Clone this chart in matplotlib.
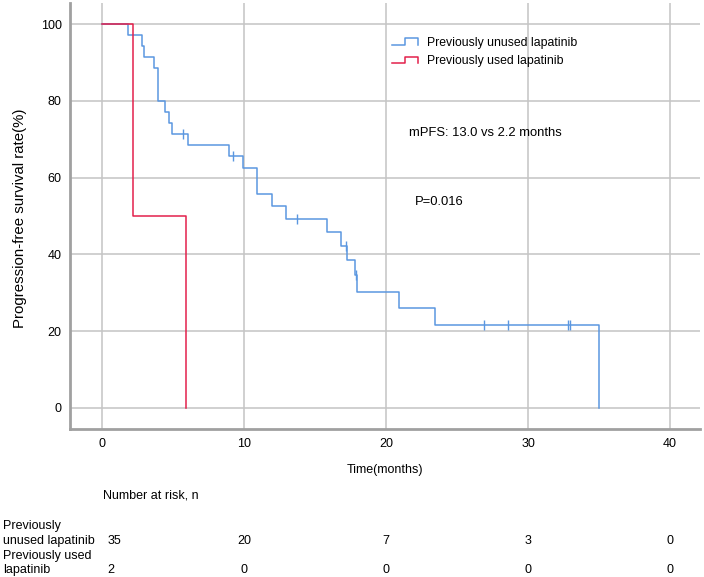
import numpy as np
import matplotlib
matplotlib.use('Agg')
import matplotlib.pyplot as plt
from matplotlib.lines import Line2D
from matplotlib.legend_handler import HandlerBase
import matplotlib.transforms as mtransforms

plt.rcParams['font.family'] = ['Liberation Sans', 'DejaVu Sans']
plt.rcParams['font.size'] = 9

# Kaplan-Meier steps
t_unused = [0, 1.85, 2.84, 2.95, 3.66, 3.97, 4.46, 4.74, 4.95, 6.03, 8.94, 9.95,
            10.94, 11.95, 12.94, 15.82, 16.85, 17.23, 17.84, 17.93, 20.94, 23.45, 35.0]
s_unused = [100, 97.1, 94.3, 91.4, 88.6, 80.0, 77.1, 74.3, 71.4, 68.5, 65.5, 62.4,
            55.7, 52.5, 49.2, 45.7, 42.2, 38.4, 34.5, 30.3, 26.0, 21.6, 0]
t_used = [0, 2.2, 5.9]
s_used = [100, 50, 0]

# censored points
c_unused_t = [5.73, 9.25, 13.7, 17.18, 17.9, 26.9, 28.6, 32.8, 32.95]
c_unused_s = [71.4, 65.5, 49.2, 42.2, 34.5, 21.6, 21.6, 21.6, 21.6]

risk_times = [0, 10, 20, 30, 40]
risk_unused = [35, 20, 7, 3, 0]
risk_used = [2, 0, 0, 0, 0]

blue = '#5b97e0'
red = '#e3204b'


class StepHandler(HandlerBase):
    def create_artists(self, legend, orig_handle, xdescent, ydescent,
                       width, height, fontsize, trans):
        x = np.array([0, 0.52, 0.52, 1.0, 1.0]) * width - xdescent
        y = np.array([0.1, 0.1, 0.9, 0.9, 0.15]) * height - ydescent
        ln = Line2D(x, y, color=orig_handle.get_color(), lw=1.1)
        ln.set_transform(trans)
        return [ln]


fig = plt.figure(figsize=(7.04, 5.77), dpi=100)
ax = fig.add_axes([70 / 704, 1 - 429.3 / 577, 630 / 704, 426.3 / 577])

l1, = ax.step(t_unused, s_unused, where='post', color=blue, lw=1.1)
l2, = ax.step(t_used, s_used, where='post', color=red, lw=1.1)
ax.plot(c_unused_t, c_unused_s, ls='none', marker='|', ms=7, mew=1.0, color=blue)

ax.set_xlim(-2.25, 42.1)
ax.set_ylim(-5.6, 105.5)
ax.set_xticks(risk_times)
ax.set_yticks([0, 20, 40, 60, 80, 100])
ax.grid(True, color='#c4c4c4', lw=1.1)
ax.set_axisbelow(True)
for s in ['top', 'right']:
    ax.spines[s].set_visible(False)
for s in ['left', 'bottom']:
    ax.spines[s].set_color('#a0a0a0')
    ax.spines[s].set_linewidth(2)
ax.tick_params(length=0, pad=6, labelsize=9)

leg = ax.legend([l1, l2], ['Previously unused lapatinib', 'Previously used lapatinib'],
                handler_map={Line2D: StepHandler()}, loc='upper left',
                bbox_to_anchor=(0.511, 0.92), frameon=False, borderpad=0,
                borderaxespad=0, handlelength=2.1, handletextpad=0.8,
                labelspacing=0.5, fontsize=8.8)

ax.text(21.6, 71.7, 'mPFS: 13.0 vs 2.2 months', fontsize=9.4, va='center')
ax.text(22.05, 53.7, 'P=0.016', fontsize=9.4, va='center')

fig.text(20 / 704, 1 - 218 / 577, 'Progression-free survival rate(%)', rotation=90,
         ha='center', va='center', fontsize=10.8)
fig.text(385 / 704, 1 - 470 / 577, 'Time(months)', ha='center', va='center', fontsize=9)

# number at risk table
tr = mtransforms.blended_transform_factory(ax.transData, fig.transFigure)
ax.text(0.1, 1 - 496 / 577, 'Number at risk, n', transform=tr, ha='left', va='center',
        fontsize=9, clip_on=False)
fig.text(3 / 704, 1 - 526 / 577, 'Previously', ha='left', va='center', fontsize=9)
fig.text(3 / 704, 1 - 541 / 577, 'unused lapatinib', ha='left', va='center', fontsize=9)
fig.text(3 / 704, 1 - 556 / 577, 'Previously used', ha='left', va='center', fontsize=9)
fig.text(3 / 704, 1 - 570 / 577, 'lapatinib', ha='left', va='center', fontsize=9)
for i, t in enumerate(risk_times):
    xt = t + 0.9 if i == 0 else t
    ax.text(xt, 1 - 541 / 577, str(risk_unused[i]), transform=tr, ha='center',
            va='center', fontsize=9, clip_on=False)
    ax.text(xt - 0.25 if i == 0 else xt, 1 - 570 / 577, str(risk_used[i]), transform=tr,
            ha='center', va='center', fontsize=9, clip_on=False)

fig.savefig('out.png', dpi=100)
